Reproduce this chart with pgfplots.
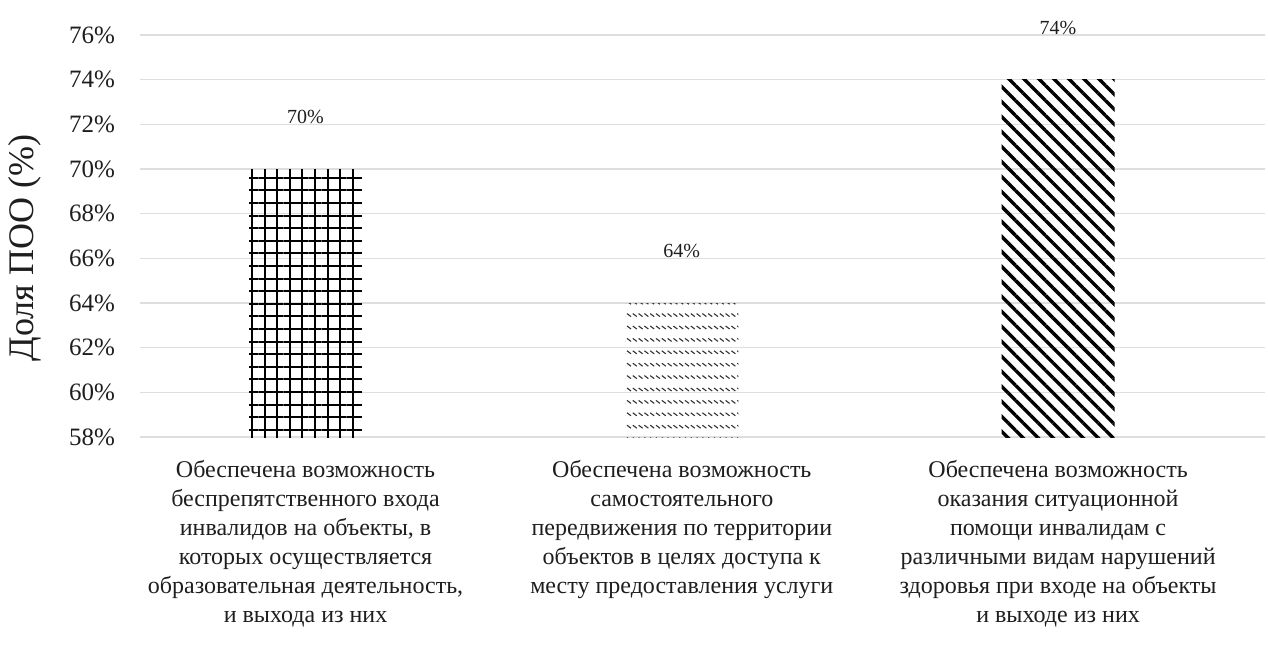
\documentclass[border=0pt]{standalone}
\usepackage{fontspec}
\setmainfont{Liberation Serif}
\usepackage{pgfplots}
\pgfplotsset{compat=1.18}
\usetikzlibrary{patterns,patterns.meta}
\pgfdeclarepattern{
  name=dashdiag,
  type=uncolored,
  bottom left={\pgfpoint{-.1pt}{-.1pt}},
  top right={\pgfpoint{3pt}{6.3pt}},
  tile size={\pgfpoint{2.9pt}{6.2pt}},
  code={
    \pgfsetlinewidth{0.55pt}
    \pgfpathmoveto{\pgfpoint{0.3pt}{4.0pt}}
    \pgfpathlineto{\pgfpoint{2.3pt}{2.5pt}}
    \pgfusepath{stroke}
  }
}
\definecolor{txt}{RGB}{30,30,30}
\definecolor{gridc}{RGB}{222,222,222}
\begin{document}
\begin{tikzpicture}
\path[use as bounding box] (0,0) rectangle (634pt,322pt);
\begin{axis}[
  at={(70pt,103.5pt)}, anchor=south west,
  scale only axis, width=562.5pt, height=201pt,
  xmin=-0.44, xmax=2.55, ymin=58, ymax=76,
  axis line style={draw=none},
  tick style={draw=none},
  ymajorgrids, grid style={gridc, line width=0.6pt},
  ytick={58,60,...,76},
  yticklabels={58\%,60\%,62\%,64\%,66\%,68\%,70\%,72\%,74\%,76\%},
  yticklabel style={font=\fontsize{12.5}{14}\selectfont, text=txt, xshift=-9pt},
  xtick={0,1,2},
  xticklabels={
    {Обеспечена возможность\\беспрепятственного входа\\инвалидов на объекты, в\\которых осуществляется\\образовательная деятельность,\\и выхода из них},
    {Обеспечена возможность\\самостоятельного\\передвижения по территории\\объектов в целях доступа к\\месту предоставления услуги},
    {Обеспечена возможность\\оказания ситуационной\\помощи инвалидам с\\различными видам нарушений\\здоровья при входе на объекты\\и выходе из них}},
  xticklabel style={align=center, font=\fontsize{12}{14.5}\selectfont, text=txt, yshift=-4pt},
  ylabel={Доля ПОО (\%)},
  every axis y label/.style={at={(rel axis cs:0,0.47)}, xshift=-57.5pt, rotate=90, anchor=center, font=\fontsize{18}{20}\selectfont, text=txt},
  ybar, bar width=0.3, bar shift=0pt,
  clip=false,
  /pgf/number format/assume math mode=true,
  nodes near coords={\pgfmathprintnumber{\pgfplotspointmeta}\%},
  every node near coord/.append style={font=\fontsize{10}{11}\selectfont, text=txt, yshift=19pt},
]
\addplot[draw=none, pattern={Hatch[distance=6.3pt, line width=1pt]}, pattern color=black] coordinates {(0,70)};
\addplot[draw=none, pattern=dashdiag, pattern color=black!80] coordinates {(1,64)};
\addplot[draw=none, pattern={Lines[angle=-45, distance=5.3pt, line width=1.7pt]}, pattern color=black] coordinates {(2,74)};
\end{axis}
\end{tikzpicture}
\end{document}
